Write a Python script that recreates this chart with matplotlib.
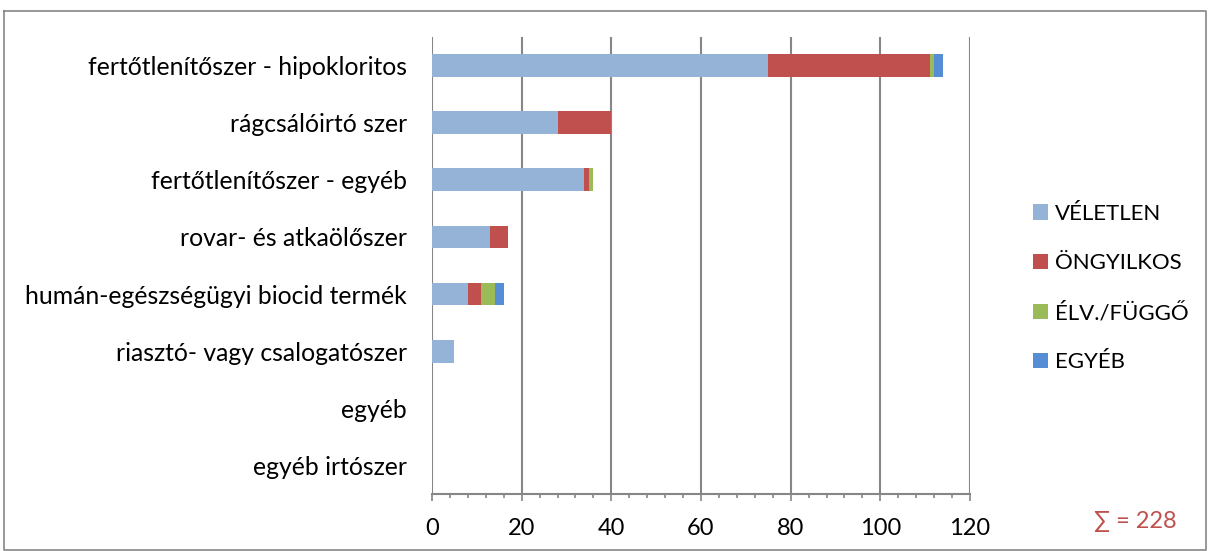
import matplotlib
matplotlib.use("Agg")
import matplotlib.pyplot as plt
from matplotlib.patches import Patch
from matplotlib.lines import Line2D
from matplotlib.ticker import MultipleLocator

categories = ["fertőtlenítőszer - hipokloritos", "rágcsálóirtó szer",
              "fertőtlenítőszer - egyéb", "rovar- és atkaölőszer",
              "humán-egészségügyi biocid termék", "riasztó- vagy csalogatószer",
              "egyéb", "egyéb irtószer"]
series_names = ["VÉLETLEN", "ÖNGYILKOS", "ÉLV./FÜGGŐ", "EGYÉB"]
veletlen = [75, 28, 34, 13, 8, 5, 0, 0]
ongyilkos = [36, 12, 1, 4, 3, 0, 0, 0]
elv = [1, 0, 1, 0, 3, 0, 0, 0]
egyeb = [2, 0, 0, 0, 2, 0, 0, 0]
total_label = "∑ = 228"
colors = ["#95B3D7", "#C0504D", "#9BBB59", "#558ED5"]

plt.rcParams['font.family'] = ['Lato', 'DejaVu Sans']

fig = plt.figure(figsize=(12.08, 5.51), dpi=100)
ax = fig.add_axes([432/1208, 57/551, 538/1208, 457/551])

y = list(range(len(categories)))
left = [0]*len(categories)
for vals, c, name in zip([veletlen, ongyilkos, elv, egyeb], colors, series_names):
    ax.barh(y, vals, left=left, height=0.4, color=c, label=name, zorder=3)
    left = [a+b for a, b in zip(left, vals)]

ax.set_ylim(len(categories)-0.5, -0.5)
ax.set_xlim(0, 120)
ax.xaxis.set_major_locator(MultipleLocator(20))
ax.xaxis.set_minor_locator(MultipleLocator(4))
ax.set_yticks(y)
ax.set_yticklabels(categories, fontsize=17.8)
ax.tick_params(axis='y', length=0, pad=18)
ax.tick_params(axis='x', which='major', direction='out', length=5, width=1.2,
               color='#868686', labelsize=17, pad=12)
ax.tick_params(axis='x', which='minor', direction='out', length=3, width=1.2,
               color='#868686')
ax.grid(axis='x', which='major', color='#868686', linewidth=1.5, zorder=0)
for s in ['top', 'right', 'left']:
    ax.spines[s].set_visible(False)
ax.spines['bottom'].set_color('#868686')
ax.spines['bottom'].set_linewidth(1.5)

handles = [Patch(facecolor=c, edgecolor='none') for c in colors]
fig.legend(handles, series_names, loc='upper left',
           bbox_to_anchor=(1024/1208, 1-195/551), frameon=False,
           fontsize=16, handlelength=0.68, handleheight=0.68,
           labelspacing=1.32, handletextpad=0.3, borderaxespad=0)

fig.text(1094/1208, 1-521/551, total_label, color='#C0504D', fontsize=17,
         va='center', ha='left')

# outer chart border
bx0, bx1, by0, by1 = 3.5/1208, 1205.5/1208, 1-10.5/551, 1-549.5/551
fig.add_artist(Line2D([bx0, bx1, bx1, bx0, bx0], [by0, by0, by1, by1, by0],
                      transform=fig.transFigure, color='#868686', linewidth=1.2))

fig.savefig("out.png", dpi=100)
